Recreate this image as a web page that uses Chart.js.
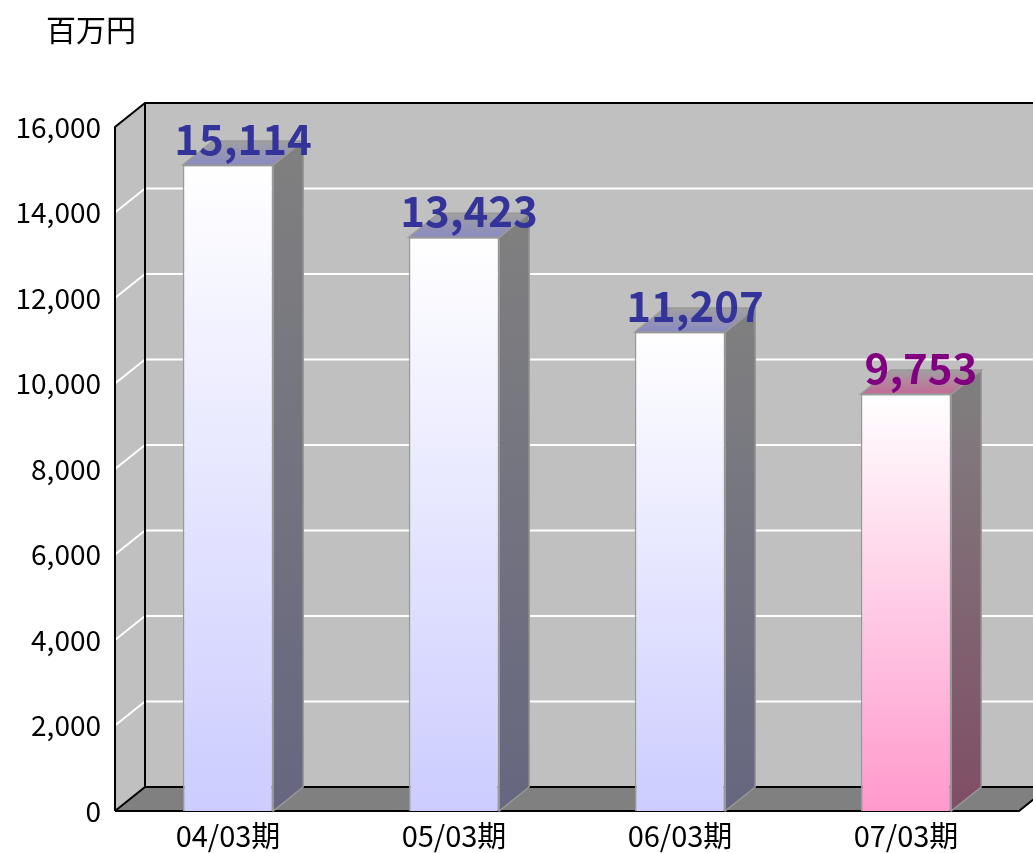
<!DOCTYPE html>
<html>
<head>
<meta charset="utf-8">
<script src="https://cdn.jsdelivr.net/npm/chart.js@4"></script>
<style>
  body { margin: 0; background: #fff; }
  canvas { display: block; }
</style>
</head>
<body>
<canvas id="salesChart" width="1033" height="853"></canvas>
<script>
// data
const categories = ['04/03期', '05/03期', '06/03期', '07/03期'];
const sales = [15114, 13423, 11207, 9753];
const unitLabel = '百万円';
const yMax = 16000;
const yStep = 2000;

// colours: earlier years blue, latest year pink
const normalColors = { front: '#ccccff', side: '#666680', top: '#8a8ac4', label: '#333399' };
const latestColors = { front: '#ff99cc', side: '#804d66', top: '#c46a98', label: '#800080' };
const colorsFor = i => (i === sales.length - 1 ? latestColors : normalColors);

const depth = { dx: 30, dy: -24 };
const jpFont = '"Noto Sans CJK JP", "Noto Sans", sans-serif';

const box3d = {
  id: 'box3d',
  beforeDraw(chart) {
    const ctx = chart.ctx;
    const { left: L, right: R, bottom: B } = chart.chartArea;
    const y = chart.scales.y;
    const T = y.getPixelForValue(yMax);
    const { dx, dy } = depth;

    ctx.save();
    ctx.fillStyle = '#ffffff';
    ctx.fillRect(0, 0, chart.width, chart.height);

    // back wall
    ctx.fillStyle = '#c0c0c0';
    ctx.fillRect(L + dx, T + dy, R - L, B - T);
    // left wall
    ctx.beginPath();
    ctx.moveTo(L, T); ctx.lineTo(L + dx, T + dy); ctx.lineTo(L + dx, B + dy); ctx.lineTo(L, B);
    ctx.closePath();
    ctx.fill();

    // grid lines
    ctx.strokeStyle = '#ffffff';
    ctx.lineWidth = 2;
    for (let v = yStep; v < yMax; v += yStep) {
      const py = y.getPixelForValue(v);
      ctx.beginPath();
      ctx.moveTo(L, py); ctx.lineTo(L + dx, py + dy); ctx.lineTo(R + dx, py + dy);
      ctx.stroke();
    }

    // floor
    ctx.fillStyle = '#808080';
    ctx.beginPath();
    ctx.moveTo(L, B); ctx.lineTo(R, B); ctx.lineTo(R + dx, B + dy); ctx.lineTo(L + dx, B + dy);
    ctx.closePath();
    ctx.fill();

    // edges
    ctx.strokeStyle = '#000000';
    ctx.lineWidth = 2;
    ctx.beginPath();
    ctx.moveTo(L, B); ctx.lineTo(L, T); ctx.lineTo(L + dx, T + dy); ctx.lineTo(R + dx, T + dy);
    ctx.moveTo(L + dx, T + dy); ctx.lineTo(L + dx, B + dy); ctx.lineTo(R + dx, B + dy);
    ctx.moveTo(L, B); ctx.lineTo(L + dx, B + dy);
    ctx.moveTo(L, B); ctx.lineTo(R, B); ctx.lineTo(R + dx, B + dy);
    ctx.stroke();
    ctx.restore();
  },
  afterDatasetsDraw(chart) {
    const ctx = chart.ctx;
    const { dx, dy } = depth;
    const meta = chart.getDatasetMeta(0);
    ctx.save();
    meta.data.forEach((bar, i) => {
      const { x, y, base, width } = bar.getProps(['x', 'y', 'base', 'width'], true);
      const x1 = x - width / 2, x2 = x + width / 2;
      const c = colorsFor(i);

      // side face
      const sg = ctx.createLinearGradient(0, y + dy, 0, base);
      sg.addColorStop(0, '#808080');
      sg.addColorStop(1, c.side);
      ctx.fillStyle = sg;
      ctx.strokeStyle = '#999999';
      ctx.lineWidth = 1.5;
      ctx.beginPath();
      ctx.moveTo(x2, y); ctx.lineTo(x2 + dx, y + dy); ctx.lineTo(x2 + dx, base + dy); ctx.lineTo(x2, base);
      ctx.closePath();
      ctx.fill();
      ctx.stroke();

      // top face
      const tg = ctx.createLinearGradient(0, y + dy, 0, y);
      tg.addColorStop(0, '#a0a0a0');
      tg.addColorStop(1, c.top);
      ctx.fillStyle = tg;
      ctx.beginPath();
      ctx.moveTo(x1, y); ctx.lineTo(x2, y); ctx.lineTo(x2 + dx, y + dy); ctx.lineTo(x1 + dx, y + dy);
      ctx.closePath();
      ctx.fill();
      ctx.stroke();
    });

    // value labels
    ctx.font = 'bold 42px ' + jpFont;
    ctx.textAlign = 'center';
    ctx.textBaseline = 'alphabetic';
    meta.data.forEach((bar, i) => {
      const { x, y } = bar.getProps(['x', 'y'], true);
      ctx.fillStyle = colorsFor(i).label;
      ctx.fillText(sales[i].toLocaleString('en-US'), x + dx / 2, y - 10);
    });
    ctx.restore();
  },
  afterDraw(chart) {
    const ctx = chart.ctx;
    ctx.save();
    ctx.font = '30px ' + jpFont;
    ctx.fillStyle = '#000000';
    ctx.textAlign = 'left';
    ctx.textBaseline = 'middle';
    ctx.fillText(unitLabel, 46, 30);
    ctx.restore();
  }
};

new Chart(document.getElementById('salesChart').getContext('2d'), {
  type: 'bar',
  data: {
    labels: categories,
    datasets: [{
      data: sales,
      backgroundColor: context => {
        const chart = context.chart;
        if (!chart.chartArea) return normalColors.front;
        const y = chart.scales.y;
        const top = y.getPixelForValue(sales[context.dataIndex]);
        const base = y.getPixelForValue(0);
        const g = chart.ctx.createLinearGradient(0, top, 0, base);
        g.addColorStop(0, '#ffffff');
        g.addColorStop(1, colorsFor(context.dataIndex).front);
        return g;
      },
      borderColor: '#999999',
      borderWidth: 1.5,
      barPercentage: 0.4,
      categoryPercentage: 1
    }]
  },
  options: {
    responsive: false,
    animation: false,
    layout: { padding: { top: 127, right: 14, left: 0, bottom: 0 } },
    plugins: {
      legend: { display: false },
      tooltip: { enabled: false }
    },
    scales: {
      x: {
        grid: { display: false, drawTicks: false },
        border: { display: false },
        ticks: {
          color: '#000000',
          font: { size: 29, family: jpFont },
          padding: 8,
          maxRotation: 0,
          autoSkip: false
        },
        afterFit: scale => { scale.height = 42; }
      },
      y: {
        min: 0,
        max: yMax,
        grid: { display: false, drawTicks: false },
        border: { display: false },
        ticks: {
          stepSize: yStep,
          color: '#000000',
          font: { size: 28, family: jpFont },
          padding: 14,
          callback: v => v.toLocaleString('en-US')
        },
        afterFit: scale => { scale.width = 115; }
      }
    }
  },
  plugins: [box3d]
});
</script>
</body>
</html>
